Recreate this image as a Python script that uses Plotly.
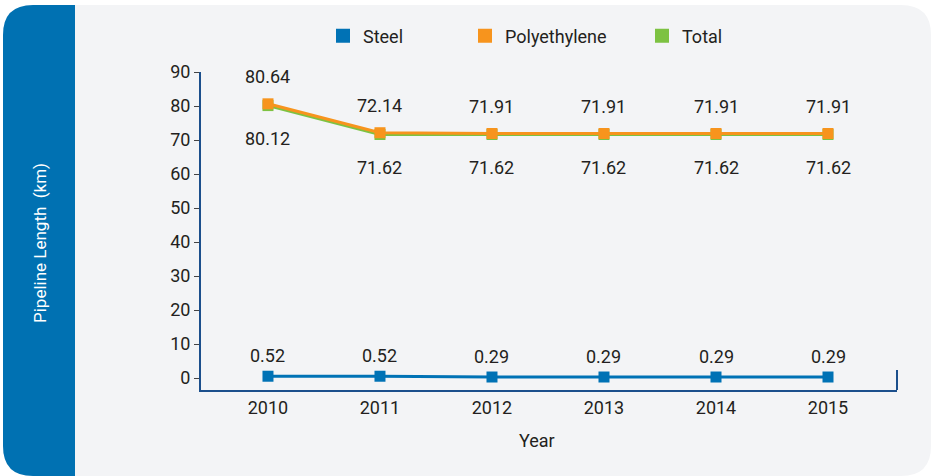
import plotly.graph_objects as go

years = ["2010", "2011", "2012", "2013", "2014", "2015"]
steel = [0.52, 0.52, 0.29, 0.29, 0.29, 0.29]
polyethylene = [80.64, 72.14, 71.91, 71.91, 71.91, 71.91]
total = [80.12, 71.62, 71.62, 71.62, 71.62, 71.62]
y_ticks = [0, 10, 20, 30, 40, 50, 60, 70, 80, 90]

C_STEEL = "#0072b5"
C_POLY = "#f7941d"
C_TOTAL = "#7dc242"
C_AXIS = "#1b4f8c"
C_TEXT = "#231f20"
FONT = "Roboto, sans-serif"
FS = 18

W, H = 931, 476
L, R, T, B = 201, 897, 72, 390
PW, PH = R - L, B - T


def px(x):
    return (x - L) / PW


def py(y):
    return (B - y) / PH


def rounded_rect(x0, y0, x1, y1, r, round_right=True):
    X0, X1 = px(x0), px(x1)
    Y0, Y1 = py(y0), py(y1)
    rx, ry = r / PW, r / PH
    p = f"M {X0+rx} {Y0} "
    if round_right:
        p += f"L {X1-rx} {Y0} Q {X1} {Y0} {X1} {Y0-ry} L {X1} {Y1+ry} Q {X1} {Y1} {X1-rx} {Y1} "
    else:
        p += f"L {X1} {Y0} L {X1} {Y1} "
    p += f"L {X0+rx} {Y1} Q {X0} {Y1} {X0} {Y1+ry} L {X0} {Y0-ry} Q {X0} {Y0} {X0+rx} {Y0} Z"
    return p


fig = go.Figure()

fig.add_trace(go.Scatter(x=years, y=total, mode="lines+markers", name="Total",
                         line=dict(color=C_TOTAL, width=3),
                         marker=dict(symbol="square", size=11, color=C_TOTAL),
                         showlegend=False, cliponaxis=False))
fig.add_trace(go.Scatter(x=years, y=polyethylene, mode="lines+markers", name="Polyethylene",
                         line=dict(color=C_POLY, width=3),
                         marker=dict(symbol="square", size=11, color=C_POLY),
                         showlegend=False, cliponaxis=False))
fig.add_trace(go.Scatter(x=years, y=steel, mode="lines+markers", name="Steel",
                         line=dict(color=C_STEEL, width=3),
                         marker=dict(symbol="square", size=11, color=C_STEEL),
                         showlegend=False, cliponaxis=False))

# legend-only entries
for nm, col, lg in [("Steel", C_STEEL, "legend"), ("Polyethylene", C_POLY, "legend2"), ("Total", C_TOTAL, "legend3")]:
    fig.add_trace(go.Scatter(x=[None], y=[None], mode="markers", name=nm,
                             marker=dict(symbol="square", size=14, color=col),
                             legend=lg, showlegend=True))

lab_font = dict(size=FS, color=C_TEXT, family=FONT)
annotations = []
for i, v in enumerate(polyethylene):
    annotations.append(dict(x=i, y=v, text=f"{v:.2f}", showarrow=False, yshift=27,
                            xanchor="center", yanchor="middle", font=lab_font))
for i, v in enumerate(total):
    annotations.append(dict(x=i, y=v, text=f"{v:.2f}", showarrow=False, yshift=-33,
                            xanchor="center", yanchor="middle", font=lab_font))
for i, v in enumerate(steel):
    annotations.append(dict(x=i, y=v, text=f"{v:.2f}", showarrow=False, yshift=21,
                            xanchor="center", yanchor="middle", font=lab_font))

annotations.append(dict(xref="paper", yref="paper", x=px(537), y=py(440), text="Year",
                        xanchor="center", yanchor="middle", showarrow=False, font=lab_font))
annotations.append(dict(xref="paper", yref="paper", x=px(40), y=py(243), text="Pipeline Length  (km)",
                        xanchor="center", yanchor="middle",
                        textangle=-90, showarrow=False, font=dict(size=17, color="white", family=FONT)))

shapes = [
    dict(type="path", xref="paper", yref="paper", path=rounded_rect(3, 5, 931, 476, 30),
         fillcolor="#f3f4f6", line=dict(width=0), layer="below"),
    dict(type="path", xref="paper", yref="paper", path=rounded_rect(3, 5, 75, 476, 30, round_right=False),
         fillcolor="#0071b2", line=dict(width=0), layer="below"),
    dict(type="line", xref="paper", yref="paper", x0=1, x1=1, y0=0, y1=py(370),
         line=dict(color=C_AXIS, width=2)),
]

legend_common = dict(orientation="h", xanchor="left", yanchor="middle", bgcolor="rgba(0,0,0,0)",
                     font=dict(size=FS, color=C_TEXT, family=FONT), xref="paper", yref="paper")

fig.update_layout(
    width=W, height=H,
    margin=dict(l=L, r=W - R, t=T, b=H - B, autoexpand=False),
    paper_bgcolor="white", plot_bgcolor="rgba(0,0,0,0)",
    font=dict(family=FONT, size=FS, color=C_TEXT),
    xaxis=dict(type="category", range=[-0.598, 5.616], showgrid=False, zeroline=False,
               showline=True, linecolor=C_AXIS, linewidth=2, ticks="",
               tickfont=lab_font),
    yaxis=dict(range=[-3.53, 90], tickvals=y_ticks, showgrid=False, zeroline=False,
               showline=True, linecolor=C_AXIS, linewidth=2, ticks="outside", ticklen=5,
               tickcolor="#444", tickwidth=1,
               tickfont=lab_font),
    legend=dict(x=px(323), y=py(36), **legend_common),
    legend2=dict(x=px(465), y=py(36), **legend_common),
    legend3=dict(x=px(642), y=py(36), **legend_common),
    annotations=annotations,
    shapes=shapes,
)

fig.write_html("out.html", config={"displayModeBar": False},
               post_script="document.body.style.margin='0px';")
